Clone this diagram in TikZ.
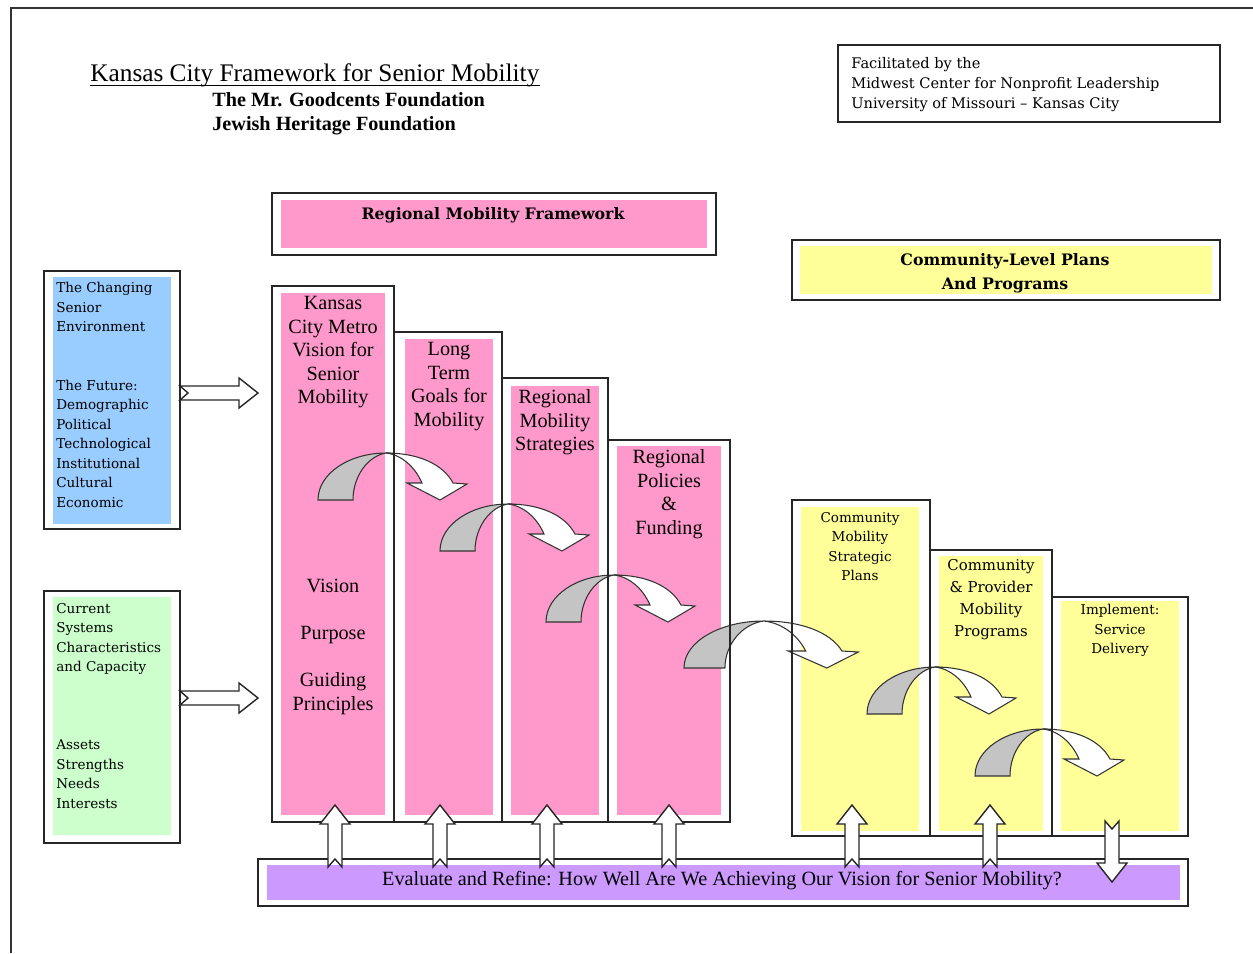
\documentclass[tikz,border=0pt]{standalone}
\usepackage{fontspec}
\setmainfont{Liberation Serif}
\newfontfamily\centfont{DejaVu Serif}
\usetikzlibrary{positioning,fit}

\definecolor{pinkfill}{HTML}{FF99CC}
\definecolor{bluefill}{HTML}{99CCFF}
\definecolor{greenfill}{HTML}{CCFFCC}
\definecolor{yellowfill}{HTML}{FFFF99}
\definecolor{purplefill}{HTML}{CC99FF}
\definecolor{arrowgray}{HTML}{C4C4C4}

\begin{document}
\begin{tikzpicture}[x=0.02cm,y=-0.02cm,
    frame/.style={draw=black!85,line width=1.1pt,inner sep=0pt},
    panel/.style={inner sep=0pt,fill=#1},
    coltext/.style={anchor=north,align=center,inner sep=0pt,font=\fontsize{11.5}{13.4}\selectfont},
    smalltext/.style={anchor=north,align=center,inner sep=0pt,font=\centfont\fontsize{7.7}{11.1}\selectfont},
    sidetext/.style={anchor=north west,align=left,inner sep=0pt,font=\centfont\fontsize{7.7}{11.1}\selectfont},
    pics/blockarr/.style={code={
        \draw[fill=white,draw=black!85,line width=0.8pt] (0,-7) -- ({#1-19},-7) -- ({#1-19},-15)
            -- (#1,0) -- ({#1-19},15) -- ({#1-19},7) -- (0,7) -- (8,0) -- cycle;
    }},
    curvy/.pic={
        \draw[fill=arrowgray,draw=black!80,line width=0.6pt] (0,0) .. controls (0,-27) and (32,-47) .. (68,-47)
            .. controls (50,-44) and (35,-24) .. (35,0) -- cycle;
        \draw[fill=white,draw=black!80,line width=0.6pt] (68,-47) .. controls (100,-47) and (125,-36) .. (135,-17)
            -- (149,-16) -- (122,0) -- (89,-17) -- (104,-17) .. controls (97,-33) and (84,-45) .. (68,-47) -- cycle;
    }]
    \useasboundingbox (0,0) rectangle (1253,953);
    \draw[black!80,line width=0.8pt] (11,953) -- (11,8) -- (1253,8);

    % heading
    \node[anchor=base west,inner sep=0pt,font=\fontsize{14.4}{16}\selectfont] (title) at (90,82)
        {Kansas City Framework for Senior Mobility};
    \draw[line width=0.7pt] ([yshift=-2pt]title.base west) -- ([yshift=-2pt]title.base east);
    \node[anchor=base west,inner sep=0pt,font=\bfseries\fontsize{11.5}{13}\selectfont] (sponsor1) at (212,107) {The Mr. Goodcents Foundation};
    \node[anchor=base west,inner sep=0pt,font=\bfseries\fontsize{11.5}{13}\selectfont] (sponsor2) at (212,131) {Jewish Heritage Foundation};
    \node[frame,fit={(838,45) (1220,122)}] (facilbox) {};
    \node[anchor=north west,align=left,inner sep=0pt,font=\centfont\fontsize{8.3}{11.3}\selectfont] (facil) at (851,57)
        {Facilitated by the\\Midwest Center for Nonprofit Leadership\\University of Missouri – Kansas City};

    % framework banners
    \node[frame,fit={(272,193) (716,255)}] (rmfbox) {};
    \node[panel=pinkfill,fit={(281,200) (707,248)}] (rmf) {};
    \node[font=\centfont\bfseries\fontsize{9}{10}\selectfont] (rmftxt) at (493,215) {Regional Mobility Framework};
    \node[frame,fit={(792,240) (1220,300)}] (clpbox) {};
    \node[panel=yellowfill,fit={(800,246) (1212,294)}] (clp) {};
    \node[align=center,font=\centfont\bfseries\fontsize{9}{13.6}\selectfont] (clptxt) at (1005,273) {Community-Level Plans\\And Programs};

    % inputs
    \node[frame,fit={(44,271) (180,529)}] (envbox) {};
    \node[panel=bluefill,fit={(53,277) (171,524)}] (env) {};
    \node[sidetext] (envtxt) at (56,282) {The Changing\\Senior\\Environment\\[22.2pt]The Future:\\Demographic\\Political\\Technological\\Institutional\\Cultural\\Economic};
    \node[frame,fit={(44,591) (180,843)}] (curbox) {};
    \node[panel=greenfill,fit={(53,597) (171,835)}] (cur) {};
    \node[sidetext] (curtxt) at (56,603) {Current\\Systems\\Characteristics\\and Capacity\\[33.3pt]Assets\\Strengths\\Needs\\Interests};

    % columns
    \node[panel=pinkfill,fit={(281,293) (385,815)}] (c1in) {};
    \node[panel=pinkfill,fit={(405,339) (493,815)}] (c2in) {};
    \node[panel=pinkfill,fit={(511,386) (599,815)}] (c3in) {};
    \node[panel=pinkfill,fit={(617,446) (721,815)}] (c4in) {};
    \node[panel=yellowfill,fit={(801,507) (919,831)}] (c5in) {};
    \node[panel=yellowfill,fit={(939,556) (1043,831)}] (c6in) {};
    \node[panel=yellowfill,fit={(1061,601) (1179,831)}] (c7in) {};

    \pic at (318,500) {curvy};
    \pic at (440,551) {curvy};
    \pic at (546,622) {curvy};
    \pic[xscale=1.17] at (684,668) {curvy};
    \pic at (867,714) {curvy};
    \pic at (975,776) {curvy};

    \node[frame,fit={(272,286) (394,822)}] (c1box) {};
    \node[frame,fit={(394,332) (502,822)}] (c2box) {};
    \node[frame,fit={(502,378) (608,822)}] (c3box) {};
    \node[frame,fit={(608,440) (730,822)}] (c4box) {};
    \node[frame,fit={(792,500) (930,836)}] (c5box) {};
    \node[frame,fit={(930,550) (1052,836)}] (c6box) {};
    \node[frame,fit={(1052,597) (1188,836)}] (c7box) {};

    \node[coltext,below=2pt of c1in.north] (c1txt) {Kansas\\City Metro\\Vision for\\Senior\\Mobility};
    \node[coltext] (c1low) at (333,579) {Vision\\[13.4pt]Purpose\\[13.4pt]Guiding\\Principles};
    \node[coltext,below=2pt of c2in.north] (c2txt) {Long\\Term\\Goals for\\Mobility};
    \node[coltext,below=2pt of c3in.north] (c3txt) {Regional\\Mobility\\Strategies};
    \node[coltext,below=2pt of c4in.north] (c4txt) {Regional\\Policies\\\&\\Funding};
    \node[smalltext,below=3pt of c5in.north] (c5txt) {Community\\Mobility\\Strategic\\Plans};
    \node[smalltext,below=2pt of c6in.north,font=\centfont\fontsize{8.5}{12.5}\selectfont] (c6txt) {Community\\\& Provider\\Mobility\\Programs};
    \node[smalltext,below=2pt of c7in.north] (c7txt) {Implement:\\Service\\Delivery};

    % evaluation bar
    \node[frame,fit={(258,859) (1188,906)}] (evalbox) {};
    \node[panel=purplefill,fit={(267,865) (1180,900)}] (eval) {};
    \node[font=\fontsize{11.5}{13}\selectfont] (evaltxt) at (722,881) {Evaluate and Refine: How Well Are We Achieving Our Vision for Senior Mobility?};

    \pic at (180,393) {blockarr=78};
    \pic at (180,698) {blockarr=78};
    \foreach \ax in {335,440,547,669,852,990}
        \pic[rotate=90] at (\ax,867) {blockarr=62};
    \pic[rotate=-90] at (1112,821) {blockarr=61};
\end{tikzpicture}
\end{document}
